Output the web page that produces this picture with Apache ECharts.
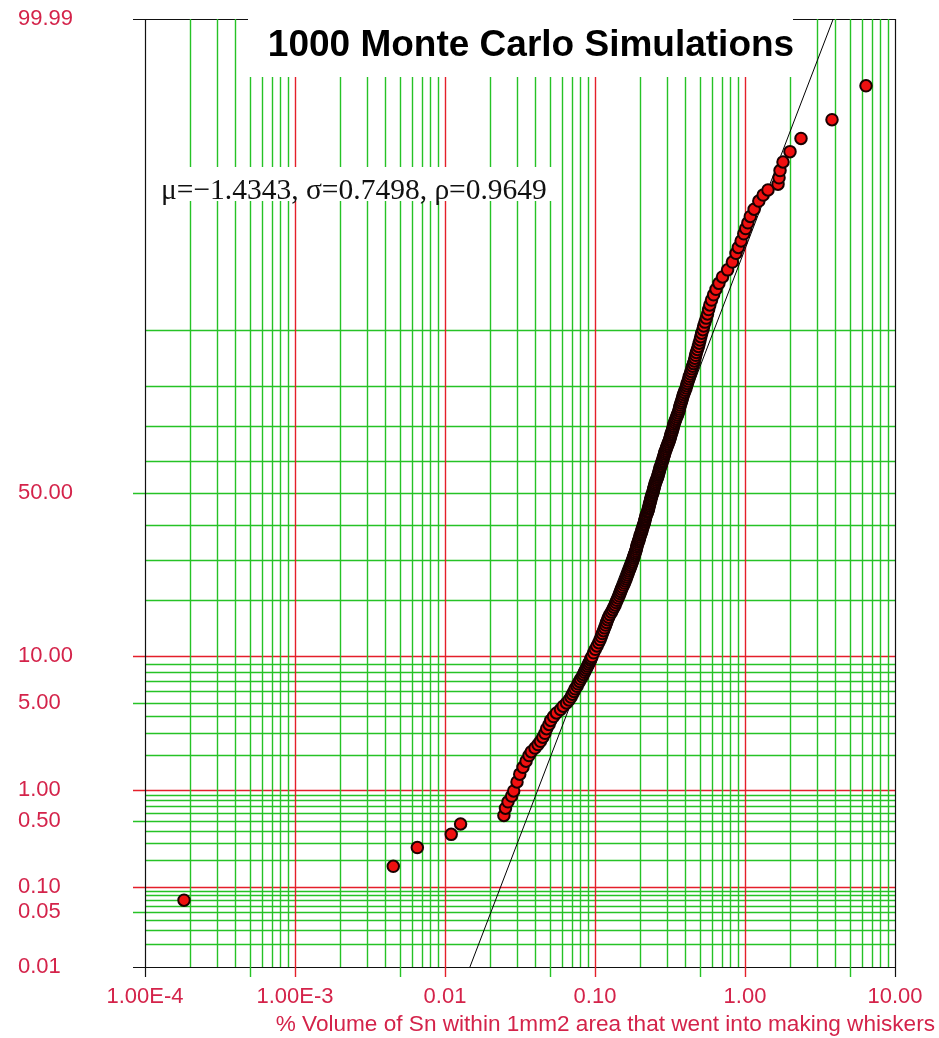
<!DOCTYPE html>
<html>
<head>
<meta charset="utf-8">
<title>1000 Monte Carlo Simulations</title>
<script src="https://cdn.jsdelivr.net/npm/echarts@6/dist/echarts.min.js"></script>
<style>
  html, body { margin: 0; padding: 0; background: #fff; }
  #chart { width: 939px; height: 1038px; }
</style>
</head>
<body>
<div id="chart"></div>
<script>
// Cumulative percent (median rank) of each plotted simulation result
const cumPct = [
  0.07, 0.17, 0.27, 0.37, 0.47, 0.57, 0.67, 0.77, 0.87, 0.97,
  1.17, 1.37, 1.57, 1.77, 1.97, 2.12, 2.27, 2.42, 2.57, 2.77,
  2.97, 3.22, 3.47, 3.72, 3.97, 4.22, 4.47, 4.72, 4.97, 5.22,
  5.47, 5.72, 5.97, 6.22, 6.47, 6.72, 6.97, 7.22, 7.47, 7.72,
  7.97, 8.22, 8.47, 8.72, 8.97, 9.22, 9.47, 9.72, 9.97, 10.5,
  11, 11.5, 12, 12.5, 13, 13.5, 14, 14.5, 15, 15.5,
  16, 16.5, 17, 17.5, 18, 18.5, 19, 19.5, 20, 20.5,
  21, 21.5, 22, 22.5, 23, 23.5, 24, 24.5, 25, 25.5,
  26, 26.5, 27, 27.5, 28, 28.5, 29, 29.5, 30, 30.5,
  31, 31.5, 32, 32.5, 33, 33.5, 34, 34.5, 35, 35.5,
  36, 36.5, 37, 37.5, 38, 38.5, 39, 39.5, 40, 40.5,
  41, 41.5, 42, 42.5, 43, 43.5, 44, 44.5, 45, 45.5,
  46, 46.5, 47, 47.5, 48, 48.5, 49, 49.5, 50, 50.5,
  51, 51.5, 52, 52.5, 53, 53.5, 54, 54.5, 55, 55.5,
  56, 56.5, 57, 57.5, 58, 58.5, 59, 59.5, 60, 60.5,
  61, 61.5, 62, 62.5, 63, 63.5, 64, 64.5, 65, 65.5,
  66, 66.5, 67, 67.5, 68, 68.5, 69, 69.5, 70, 70.5,
  71, 71.5, 72, 72.5, 73, 73.5, 74, 74.5, 75, 75.5,
  76, 76.5, 77, 77.5, 78, 78.5, 79, 79.5, 80, 80.5,
  81, 81.5, 82, 82.5, 83, 83.5, 84, 84.5, 85, 85.5,
  86, 86.5, 87, 87.5, 88, 88.5, 89, 89.5, 90, 90.5,
  91, 91.5, 92, 92.5, 93, 93.5, 94, 94.5, 95, 95.5,
  96, 96.5, 97, 97.3, 97.6, 97.9, 98.1, 98.3, 98.5, 98.7,
  98.9, 99.03, 99.13, 99.23, 99.33, 99.43, 99.53, 99.63, 99.73, 99.83,
  99.93
];
// % volume of Sn that went into whiskers, same order
const volPct = [
  0.000182, 0.00452, 0.00654, 0.0110, 0.0127, 0.0247, 0.0253, 0.0263, 0.0278, 0.0287,
  0.0302, 0.0315, 0.0331, 0.0347, 0.0363, 0.0376, 0.0398, 0.0417, 0.0433, 0.0449,
  0.0464, 0.0476, 0.0494, 0.0507, 0.0529, 0.0554, 0.0589, 0.0614, 0.0646, 0.0671,
  0.0692, 0.0707, 0.0724, 0.0737, 0.0759, 0.0771, 0.0788, 0.0802, 0.0823, 0.0836,
  0.0851, 0.0863, 0.0878, 0.0891, 0.0905, 0.0918, 0.0933, 0.0942, 0.0955, 0.0979,
  0.1005, 0.1031, 0.1058, 0.1082, 0.1102, 0.1120, 0.1139, 0.1159, 0.1177, 0.1195,
  0.1213, 0.1232, 0.1257, 0.1287, 0.1312, 0.1337, 0.1361, 0.1382, 0.1402, 0.1423,
  0.1448, 0.1466, 0.1484, 0.1502, 0.1523, 0.1549, 0.1570, 0.1588, 0.1609, 0.1625,
  0.1644, 0.1663, 0.1680, 0.1701, 0.1720, 0.1738, 0.1757, 0.1775, 0.1792, 0.1806,
  0.1820, 0.1837, 0.1856, 0.1871, 0.1885, 0.1897, 0.1908, 0.1923, 0.1941, 0.1962,
  0.1974, 0.1988, 0.2004, 0.2023, 0.2042, 0.2057, 0.2070, 0.2086, 0.2105, 0.2125,
  0.2138, 0.2151, 0.2164, 0.2178, 0.2191, 0.2215, 0.2239, 0.2251, 0.2274, 0.2279,
  0.2301, 0.2307, 0.2330, 0.2335, 0.2359, 0.2364, 0.2388, 0.2399, 0.2429, 0.2442,
  0.2455, 0.2472, 0.2489, 0.2502, 0.2520, 0.2543, 0.2566, 0.2591, 0.2614, 0.2636,
  0.2650, 0.2669, 0.2687, 0.2704, 0.2724, 0.2750, 0.2776, 0.2793, 0.2823, 0.2834,
  0.2862, 0.2880, 0.2906, 0.2924, 0.2951, 0.2979, 0.3010, 0.3039, 0.3066, 0.3100,
  0.3133, 0.3152, 0.3182, 0.3201, 0.3231, 0.3266, 0.3286, 0.3311, 0.3337, 0.3357,
  0.3394, 0.3430, 0.3467, 0.3504, 0.3542, 0.3581, 0.3625, 0.3645, 0.3669, 0.3701,
  0.3738, 0.3779, 0.3819, 0.3849, 0.3890, 0.3939, 0.3988, 0.4043, 0.4080, 0.4118,
  0.4169, 0.4221, 0.4259, 0.4319, 0.4378, 0.4419, 0.4473, 0.4543, 0.4592, 0.4637,
  0.4691, 0.4742, 0.4816, 0.4890, 0.4951, 0.5012, 0.5074, 0.5144, 0.5240, 0.5305,
  0.5412, 0.5521, 0.5623, 0.5719, 0.5826, 0.5979, 0.6176, 0.6407, 0.6699, 0.7079,
  0.7656, 0.8241, 0.8710, 0.9023, 0.9419, 0.9817, 1.011, 1.045, 1.085, 1.150,
  1.236, 1.322, 1.423, 1.660, 1.686, 1.712, 1.792, 1.995, 2.362, 3.802,
  6.407
];

// Lognormal fit parameters (natural log) and correlation
const fitMu = -1.4343;
const fitSigma = 0.7498;
const fitRho = 0.9649;

// Probability axis labels
const yTickPct = [0.01, 0.05, 0.1, 0.5, 1, 5, 10, 50, 99.99];
const yTickLabels = ['0.01', '0.05', '0.10', '0.50', '1.00', '5.00', '10.00', '50.00', '99.99'];
// Log axis labels, one per decade from 1e-4 to 10
const xTickLabels = ['1.00E-4', '1.00E-3', '0.01', '0.10', '1.00', '10.00'];

const titleText = '1000 Monte Carlo Simulations';
const xAxisTitle = '% Volume of Sn within 1mm2 area that went into making whiskers';

// Inverse of the standard normal CDF (Acklam's rational approximation)
function probit(p) {
  const a = [-3.969683028665376e+01, 2.209460984245205e+02, -2.759285104469687e+02,
             1.383577518672690e+02, -3.066479806614716e+01, 2.506628277459239e+00];
  const b = [-5.447609879822406e+01, 1.615858368580409e+02, -1.556989798598866e+02,
             6.680131188771972e+01, -1.328068155288572e+01];
  const c = [-7.784894002430293e-03, -3.223964580411365e-01, -2.400758277161838e+00,
             -2.549732539343734e+00, 4.374664141464968e+00, 2.938163982698783e+00];
  const d = [7.784695709041462e-03, 3.224671290700398e-01, 2.445134137142996e+00,
             3.754408661907416e+00];
  const pl = 0.02425, ph = 1 - pl;
  let q, r;
  if (p < pl) {
    q = Math.sqrt(-2 * Math.log(p));
    return (((((c[0] * q + c[1]) * q + c[2]) * q + c[3]) * q + c[4]) * q + c[5]) /
           ((((d[0] * q + d[1]) * q + d[2]) * q + d[3]) * q + 1);
  }
  if (p > ph) {
    q = Math.sqrt(-2 * Math.log(1 - p));
    return -(((((c[0] * q + c[1]) * q + c[2]) * q + c[3]) * q + c[4]) * q + c[5]) /
            ((((d[0] * q + d[1]) * q + d[2]) * q + d[3]) * q + 1);
  }
  q = p - 0.5; r = q * q;
  return (((((a[0] * r + a[1]) * r + a[2]) * r + a[3]) * r + a[4]) * r + a[5]) * q /
         (((((b[0] * r + b[1]) * r + b[2]) * r + b[3]) * r + b[4]) * r + 1);
}
const pz = pct => probit(pct / 100);

const X_MIN = 1e-4, X_MAX = 10;
const Z_MIN = pz(0.01), Z_MAX = pz(99.99);

const RED = '#e41f2a';
const GREEN = '#26c226';
const BLACK = '#111111';
const LABEL_RED = '#d4234a';
const GRID_W = 1.4;
const TICK_LEN_Y = 12;
const TICK_LEN_X = 10;
const SANS = '"Liberation Sans", Arial, sans-serif';

// Horizontal grid: 1..9 steps of each probability decade, plus 20..90 %
const hLines = [];
[0.01, 0.1, 1].forEach(base => {
  for (let k = 1; k <= 9; k++) hLines.push(+(base * k).toPrecision(3));
});
for (let k = 1; k <= 9; k++) hLines.push(k * 10);
hLines.push(99.99);
const hColor = p => (p === 0.01 || p === 99.99) ? BLACK : (p === 0.1 || p === 1 || p === 10) ? RED : GREEN;
const hTick = p => yTickPct.indexOf(p) >= 0;

// Vertical grid: 1..9 multiples of every decade, plus the right frame at 10
const vLines = [];
for (let e = -4; e <= 0; e++) {
  for (let k = 1; k <= 9; k++) vLines.push({ v: k * Math.pow(10, e), k: k, e: e });
}
vLines.push({ v: 10, k: 1, e: 1 });
const vColor = l => (l.e === -4 && l.k === 1) || l.e === 1 ? BLACK : l.k === 1 ? RED : GREEN;
const vTick = l => l.k === 1 || l.k === 5;

const frameW = c => c === BLACK ? 1.2 : GRID_W;

const chart = echarts.init(document.getElementById('chart'), null, { renderer: 'canvas' });

chart.setOption({
  animation: false,
  backgroundColor: '#ffffff',
  grid: { left: 145, right: 44, top: 19, bottom: 71, containLabel: false },
  xAxis: {
    type: 'log',
    logBase: 10,
    min: X_MIN,
    max: X_MAX,
    axisLine: { show: false, onZero: false },
    axisTick: { show: false },
    splitLine: { show: false },
    minorSplitLine: { show: false },
    axisLabel: {
      color: LABEL_RED,
      fontFamily: SANS,
      fontSize: 22,
      margin: 19,
      formatter: v => xTickLabels[Math.round(Math.log10(v)) + 4]
    },
    name: xAxisTitle,
    nameLocation: 'end',
    nameGap: 40,
    nameTextStyle: {
      color: LABEL_RED,
      fontFamily: SANS,
      fontSize: 22.6,
      align: 'right',
      verticalAlign: 'top',
      padding: [46, 0, 0, 0]
    }
  },
  yAxis: {
    type: 'value',
    min: Z_MIN,
    max: Z_MAX,
    axisLine: { show: false, onZero: false },
    axisTick: { show: false },
    splitLine: { show: false },
    axisLabel: {
      customValues: yTickPct.map(pz),
      color: LABEL_RED,
      fontFamily: SANS,
      fontSize: 22,
      align: 'left',
      margin: 127,
      padding: [0, 0, 4, 0],
      formatter: v => {
        let best = 0, bd = Infinity;
        yTickPct.forEach((p, i) => { const dd = Math.abs(pz(p) - v); if (dd < bd) { bd = dd; best = i; } });
        return yTickLabels[best];
      }
    }
  },
  graphic: [
    {
      type: 'rect', z: 100, silent: true,
      shape: { x: 248, y: 0, width: 545, height: 77 },
      style: { fill: '#ffffff' }
    },
    {
      type: 'text', z: 101, silent: true,
      x: 531, y: 46,
      style: {
        text: titleText,
        font: 'bold 37px "Liberation Sans", Arial, sans-serif',
        fill: '#000000',
        align: 'center',
        verticalAlign: 'middle'
      }
    },
    {
      type: 'rect', z: 100, silent: true,
      shape: { x: 151, y: 167, width: 405, height: 34 },
      style: { fill: '#ffffff' }
    },
    {
      type: 'text', z: 101, silent: true,
      x: 161, y: 191,
      style: {
        text: 'μ=−' + Math.abs(fitMu).toFixed(4) + ', σ=' + fitSigma.toFixed(4) + ', ρ=' + fitRho.toFixed(4),
        font: '29.5px "Liberation Serif", "Times New Roman", serif',
        fill: '#111111',
        align: 'left',
        verticalAlign: 'middle'
      }
    }
  ],
  series: [
    {
      name: 'probability grid',
      type: 'custom',
      silent: true,
      z: 1,
      clip: false,
      data: hLines.map(p => [X_MIN, pz(p)]),
      renderItem: (params, api) => {
        const cs = params.coordSys;
        const p = hLines[params.dataIndex];
        const y = Math.round(api.coord([api.value(0), api.value(1)])[1]) + 0.5;
        const c = hColor(p);
        return {
          type: 'line',
          shape: { x1: cs.x - (hTick(p) ? TICK_LEN_Y : 0), y1: y, x2: cs.x + cs.width, y2: y },
          style: { stroke: c, lineWidth: frameW(c) }
        };
      }
    },
    {
      name: 'log grid',
      type: 'custom',
      silent: true,
      z: 1,
      clip: false,
      data: vLines.map(l => [l.v, Z_MIN]),
      renderItem: (params, api) => {
        const cs = params.coordSys;
        const l = vLines[params.dataIndex];
        const x = Math.round(api.coord([api.value(0), api.value(1)])[0]) + 0.5;
        const c = vColor(l);
        return {
          type: 'line',
          shape: { x1: x, y1: cs.y, x2: x, y2: cs.y + cs.height + (vTick(l) ? TICK_LEN_X : 0) },
          style: { stroke: c, lineWidth: frameW(c) }
        };
      }
    },
    {
      name: 'lognormal fit',
      type: 'line',
      z: 2,
      symbol: 'none',
      silent: true,
      lineStyle: { color: '#000000', width: 1 },
      data: [
        [Math.exp(fitMu + fitSigma * Z_MIN), Z_MIN],
        [Math.exp(fitMu + fitSigma * Z_MAX), Z_MAX]
      ]
    },
    {
      name: 'simulations',
      type: 'scatter',
      z: 3,
      symbol: 'circle',
      symbolSize: 11.5,
      itemStyle: { color: '#f01010', borderColor: '#1a0000', borderWidth: 2, opacity: 1 },
      data: cumPct.map((p, i) => [volPct[i], pz(p)])
    }
  ]
});
</script>
</body>
</html>
